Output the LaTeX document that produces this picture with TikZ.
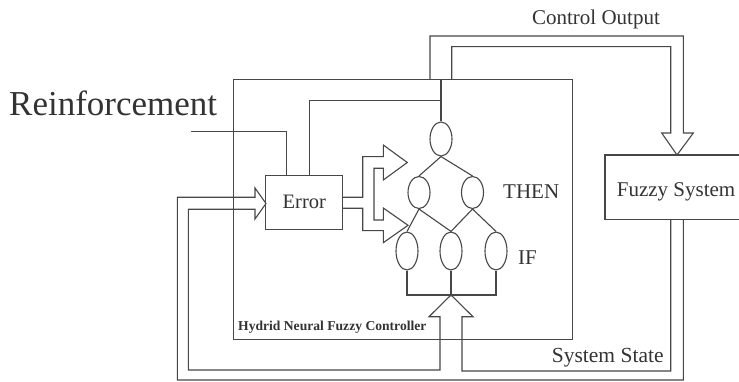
\documentclass[tikz,border=0pt]{standalone}
\usepackage{fontspec}
\setmainfont{Liberation Serif}
\usetikzlibrary{shapes.geometric}
\begin{document}
\begin{tikzpicture}[x=1pt,y=-1pt]
\tikzset{
  ln/.style={draw=black!72, line width=1.1pt, line join=miter},
  box/.style={draw=black!72, line width=1.1pt, inner sep=0pt},
  neuron/.style={ellipse, draw=black!72, line width=1.1pt, minimum width=22pt, inner sep=0pt},
  lbl/.style={text=black!80, inner sep=0pt},
  fs/.style={font=\fontsize{#1}{#1}\selectfont}
}
\useasboundingbox (0,0) rectangle (739,382);
\fill[white] (0,0) rectangle (739,382);

% controller box
\node[box, anchor=north west, minimum width=339pt, minimum height=260pt] (ctrl) at (233,79) {};
% error box
\node[box, minimum width=77pt, minimum height=54pt, lbl, fs=20.5] (err) at (304.3,202.3) {Error};
% fuzzy system (open to the right, cut by the page edge)
\coordinate (fzNE) at (739,155);
\coordinate (fzNW) at (605,155);
\coordinate (fzSW) at (605,219.3);
\coordinate (fzSE) at (739,219.3);
\draw[ln] (fzNE) -- (fzNW) -- (fzSW) -- (fzSE);
\node[lbl, anchor=base west, fs=21] (fz) at (616.7,197) {Fuzzy System};

% neurons
\node[neuron, minimum height=34pt] (t)  at (441,139) {};
\node[neuron, minimum height=32pt] (ml) at (419,192.5) {};
\node[neuron, minimum height=32pt] (mr) at (472.5,192.5) {};
\node[neuron, minimum height=38pt] (bl) at (407,251) {};
\node[neuron, minimum height=38pt] (bm) at (451,251) {};
\node[neuron, minimum height=38pt] (br) at (496,251) {};

\draw[ln] (t.south) -- (ml.north);
\draw[ln] (t.south) -- (mr.north);
\draw[ln] (ml.south) -- (bl.north);
\draw[ln] (ml.south) -- (bm.north);
\draw[ln] (mr.south) -- (bm.north);
\draw[ln] (mr.south) -- (br.north);

% bus below the IF layer
\coordinate (bus) at (451,295);
\draw[ln] (bl.south) |- (bus) -| (br.south);
\draw[ln] (bm.south) -- (bus);

% feedback from the output neuron to the error box
\coordinate (j1) at (441,100.7);
\draw[ln] (t.north |- ctrl.north) -- (t.north);
\draw[ln] ([xshift=5pt]err.north) |- (j1);

% reinforcement input
\coordinate (rin) at (190.7,131.7);
\draw[ln] (rin) -| ([xshift=-17.6pt]err.north);

% control output pipe to the fuzzy system
\coordinate (fzin) at (677,155);
\draw[ln] (430,79) -- (430,36) -- (683.3,36) -- (683.3,133) -- (693.3,133)
  -- (fzin) -- (661.7,133) -- (670.7,133) -- (670.7,46.7) -- (451.7,46.7) -- (451.7,79);

% system state pipe back to the error box and the IF layer
\coordinate (errin) at (266,203.5);
\draw[ln] (683.3,219.3) -- (683.3,380) -- (177.3,380) -- (177.3,197.3) -- (255,197.3)
  -- (255,188) -- (errin) -- (255,219) -- (255,209.3) -- (188.3,209.3)
  -- (188.3,370) -- (440,370) -- (440,316.7) -- (429,316.7) -- (bus)
  -- (473,316.7) -- (462,316.7) -- (462,371) -- (670.7,371) -- (670.7,219.3);

% error to network pipe (T split)
\coordinate (upin) at (407.3,162.5);
\coordinate (loin) at (408,225.3);
\draw[ln] (342.7,197.3) -- (362.7,197.3) -- (362.7,156.7) -- (383.3,156.7) -- (383.3,145)
  -- (upin) -- (383.3,180) -- (383.3,168.3) -- (374,168.3) -- (374,220) -- (383.3,220)
  -- (383.3,208) -- (loin) -- (383.3,242.7) -- (383.3,230.7) -- (362.7,230.7)
  -- (362.7,208.3) -- (342.7,208.3);

% labels
\node[lbl, anchor=base west, fs=35] (reinf) at (9,116) {Reinforcement};
\node[lbl, anchor=base, fs=21] (co) at (596,25) {Control Output};
\node[lbl, anchor=base west, fs=21] (then) at (503,198.3) {THEN};
\node[lbl, anchor=base west, fs=21] (if) at (518,265) {IF};
\node[lbl, anchor=base west, fs=21.5] (ss) at (551.7,362) {System State};
\node[lbl, anchor=base west, fs=13.6, font=\bfseries\fontsize{13.6}{13.6}\selectfont] (hn) at (238,330.7) {Hydrid Neural Fuzzy Controller};
\end{tikzpicture}
\end{document}
